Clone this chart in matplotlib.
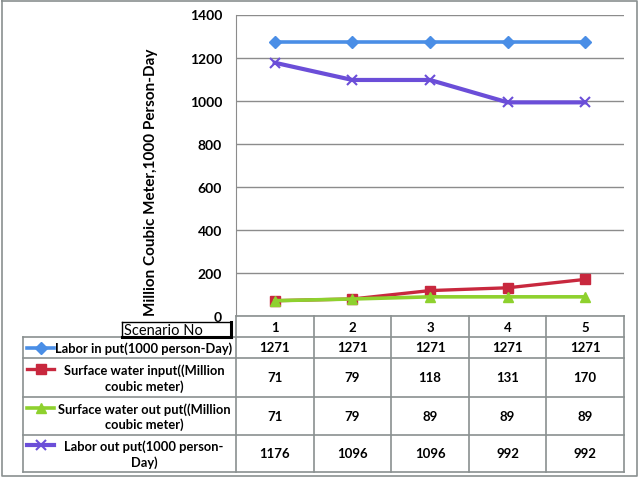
import matplotlib
matplotlib.use("Agg")
import matplotlib.pyplot as plt

plt.rcParams['font.family'] = ['Lato', 'DejaVu Sans']

scenarios = ["1", "2", "3", "4", "5"]
labor_in = [1271, 1271, 1271, 1271, 1271]
sw_in = [71, 79, 118, 131, 170]
sw_out = [71, 79, 89, 89, 89]
labor_out = [1176, 1096, 1096, 992, 992]

series_labels = ["Labor in put(1000 person-Day)",
                 "Surface water input((Million\ncoubic meter)",
                 "Surface water out put((Million\ncoubic meter)",
                 "Labor out put(1000 person-\nDay)"]
series_values = [labor_in, sw_in, sw_out, labor_out]
colors = ["#4A8EE6", "#C8283E", "#8ED12E", "#6B4ED8"]
markers = ["D", "s", "^", "x"]
msizes = [6, 7, 7, 7]
lws = [2.6, 2.4, 2.6, 3.0]

W, H = 640, 481
fig = plt.figure(figsize=(W / 100, H / 100), dpi=100)

# pixel geometry
px_l, px_r, px_t, px_b = 236, 624, 15.5, 317
ax = fig.add_axes([px_l / W, 1 - px_b / H, (px_r - px_l) / W, (px_b - px_t) / H])
x = list(range(len(scenarios)))
for vals, c, m, ms, lw in zip(series_values, colors, markers, msizes, lws):
    mew = 1.5 if m == "x" else 1
    ax.plot(x, vals, color=c, marker=m, markersize=ms, linewidth=lw,
            markeredgewidth=mew, markeredgecolor=c, zorder=3)
ax.set_xlim(-0.5, len(scenarios) - 0.5)
ax.set_ylim(0, 1400)
ax.set_yticks(range(0, 1401, 200))
ax.set_yticklabels([str(v) for v in range(0, 1401, 200)], fontsize=10, fontweight='bold')
ax.set_xticks([])
ax.tick_params(axis='y', length=0, pad=10)
ax.grid(axis='y', color='#8c8c8c', linewidth=1)
for s in ['top', 'right', 'bottom']:
    ax.spines[s].set_visible(False)
ax.spines['left'].set_color('#8c8c8c')
ax.set_ylabel("Million Coubic Meter,1000 Person-Day", fontsize=11,
              fontweight='bold', labelpad=6)
ax.yaxis.set_label_coords((158 - px_l) / (px_r - px_l), (px_b - 182) / (px_b - px_t))

# overlay in pixel coordinates for the data table
ov = fig.add_axes([0, 0, 1, 1], zorder=5)
ov.set_xlim(0, W)
ov.set_ylim(H, 0)
ov.axis('off')
ov.patch.set_alpha(0)

gc = '#8a9090'
# outer border
ov.plot([1.5, 637, 637, 1.5, 1.5], [1.5, 1.5, 477, 477, 1.5], color=gc, lw=1.2)

col_w = (px_r - px_l) / len(scenarios)
row_edges = [317, 338, 359, 398, 436, 473]
tbl_left = 23
# horizontal lines
ov.plot([px_l, px_r], [row_edges[0], row_edges[0]], color=gc, lw=1.2)
for yv in row_edges[1:]:
    ov.plot([tbl_left, px_r], [yv, yv], color=gc, lw=1.2)
# vertical lines
for i in range(len(scenarios) + 1):
    xv = px_l + i * col_w
    ov.plot([xv, xv], [row_edges[0], row_edges[-1]], color=gc, lw=1.2)
ov.plot([tbl_left, tbl_left], [row_edges[1], row_edges[-1]], color=gc, lw=1.2)

# Scenario No box
ov.plot([122, 231, 231, 122, 122], [323, 323, 338, 338, 323], color='black', lw=1.0)
ov.plot([231, 231], [323, 338], color='black', lw=2.2)
ov.plot([122, 231], [338, 338], color='black', lw=2.2)
ov.text(124, 331.5, "Scenario No", fontsize=10.5, va='center', ha='left')

# header
for i, s in enumerate(scenarios):
    ov.text(px_l + (i + 0.5) * col_w, (row_edges[0] + row_edges[1]) / 2 + 0.5, s,
            fontsize=9.5, fontweight='bold', ha='center', va='center')

# rows
for r, (lab, vals, c, m, ms, lw) in enumerate(zip(series_labels, series_values, colors,
                                                 markers, msizes, lws)):
    y0, y1 = row_edges[r + 1], row_edges[r + 2]
    yc = (y0 + y1) / 2
    ov.text(144, yc, lab, fontsize=9.3, fontweight='bold', ha='center', va='center',
            multialignment='center', linespacing=1.25)
    ymark = yc if '\n' not in lab else yc - 8.5
    mew = 1.5 if m == "x" else 1
    ov.plot([27, 54], [ymark, ymark], color=c, lw=lw)
    ov.plot([40.5], [ymark], color=c, marker=m, markersize=ms, markeredgewidth=mew,
            markeredgecolor=c)
    for i, v in enumerate(vals):
        ov.text(px_l + (i + 0.5) * col_w, yc, str(v), fontsize=9.5, fontweight='bold',
                ha='center', va='center')

fig.savefig("out.png", dpi=100)
